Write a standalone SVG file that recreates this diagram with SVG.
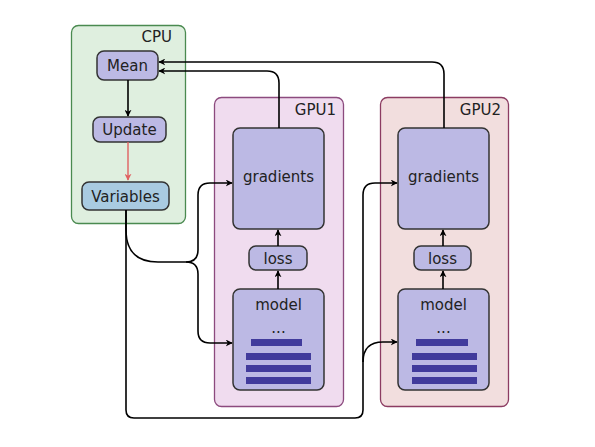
<svg xmlns="http://www.w3.org/2000/svg" width="595" height="447" viewBox="0 0 595 447">
<defs>
<marker id="ah" viewBox="0 0 10 10" refX="9" refY="5" markerWidth="7" markerHeight="7" orient="auto" markerUnits="userSpaceOnUse"><path d="M0,0 L10,5 L0,10 L3,5 z" fill="#000"/></marker>
<marker id="ahr" viewBox="0 0 10 10" refX="9" refY="5" markerWidth="7" markerHeight="7" orient="auto" markerUnits="userSpaceOnUse"><path d="M0,0 L10,5 L0,10 L3,5 z" fill="#e06262"/></marker>
<style>
text{font-family:"DejaVu Sans","Liberation Sans",sans-serif;font-size:15px;fill:#222}
.node{fill:#bcb9e4;stroke:#333;stroke-width:1.5}
.bar{fill:#413b9c}
.c{fill:none;stroke:#000;stroke-width:1.6}
</style>
</defs>
<rect width="595" height="447" fill="#fff"/>
<g id="cpu"><rect x="71.5" y="25.5" width="114" height="198" rx="7" fill="#dfefdf" stroke="#4a8a50" stroke-width="1.3"/><text x="172" y="42" text-anchor="end">CPU</text></g>
<g id="gpu1"><rect x="214.5" y="97.5" width="129" height="309" rx="7" fill="#f0dcef" stroke="#8c4a7e" stroke-width="1.3"/><text x="336" y="115" text-anchor="end">GPU1</text></g>
<g id="gpu2"><rect x="380.5" y="97.5" width="128" height="309" rx="7" fill="#f2dede" stroke="#8c3c62" stroke-width="1.3"/><text x="501" y="115" text-anchor="end">GPU2</text></g>
<g id="mean"><rect class="node" x="97" y="51" width="61" height="29" rx="7"/><text x="127.5" y="70.5" text-anchor="middle">Mean</text></g>
<g id="update"><rect class="node" x="93" y="117" width="73" height="25" rx="7"/><text x="129.5" y="135" text-anchor="middle">Update</text></g>
<g id="variables"><rect x="82" y="182" width="87" height="28" rx="7" fill="#a9cbe1" stroke="#333" stroke-width="1.5"/><text x="125.5" y="201.5" text-anchor="middle">Variables</text></g>
<g id="gradients1"><rect class="node" x="233" y="128" width="91" height="101" rx="7"/><text x="278.5" y="182" text-anchor="middle">gradients</text></g>
<g id="loss1"><rect class="node" x="249" y="246" width="58" height="24" rx="7"/><text x="278" y="263.5" text-anchor="middle">loss</text></g>
<g id="model1"><rect class="node" x="233" y="289" width="91" height="101" rx="7"/><text x="278.5" y="310" text-anchor="middle">model</text><text x="278.5" y="333" text-anchor="middle">...</text>
<rect class="bar" x="251" y="339" width="51" height="7"/><rect class="bar" x="246" y="353" width="65" height="7"/><rect class="bar" x="246" y="365" width="65" height="7"/><rect class="bar" x="246" y="377" width="65" height="7"/></g>
<g id="gradients2"><rect class="node" x="398" y="128" width="91" height="101" rx="7"/><text x="443.5" y="182" text-anchor="middle">gradients</text></g>
<g id="loss2"><rect class="node" x="414" y="246" width="57" height="24" rx="7"/><text x="442.5" y="263.5" text-anchor="middle">loss</text></g>
<g id="model2"><rect class="node" x="398" y="289" width="91" height="101" rx="7"/><text x="443.5" y="310" text-anchor="middle">model</text><text x="443.5" y="333" text-anchor="middle">...</text>
<rect class="bar" x="416" y="339" width="52" height="7"/><rect class="bar" x="412" y="353" width="65" height="7"/><rect class="bar" x="412" y="365" width="65" height="7"/><rect class="bar" x="412" y="377" width="65" height="7"/></g>
<g id="connectors">
<path class="c" d="M128,80 V116" marker-end="url(#ah)"/>
<path d="M128,142 V180" fill="none" stroke="#e06262" stroke-width="1.4" marker-end="url(#ahr)"/>
<path class="c" d="M279,128 V83 Q279,71 267,71 H159" marker-end="url(#ah)"/>
<path class="c" d="M444,128 V74 Q444,62 432,62 H159" marker-end="url(#ah)"/>
<path class="c" d="M126,210 V230 Q126,262 158,262 H186 Q198,262 198,250 V195 Q198,183 210,183 H232" marker-end="url(#ah)"/>
<path class="c" d="M186,262 Q198,262 198,274 V331 Q198,343 210,343 H232" marker-end="url(#ah)"/>
<path class="c" d="M126,210 V410 Q126,418 134,418 H355 Q363,418 363,410 V195 Q363,183 375,183 H397" marker-end="url(#ah)"/>
<path class="c" d="M363,362 Q363,342 383,342 H397" marker-end="url(#ah)"/>
<path class="c" d="M278,246 V230" marker-end="url(#ah)"/>
<path class="c" d="M278,289 V271" marker-end="url(#ah)"/>
<path class="c" d="M443,246 V230" marker-end="url(#ah)"/>
<path class="c" d="M443,289 V271" marker-end="url(#ah)"/>
</g>
</svg>
